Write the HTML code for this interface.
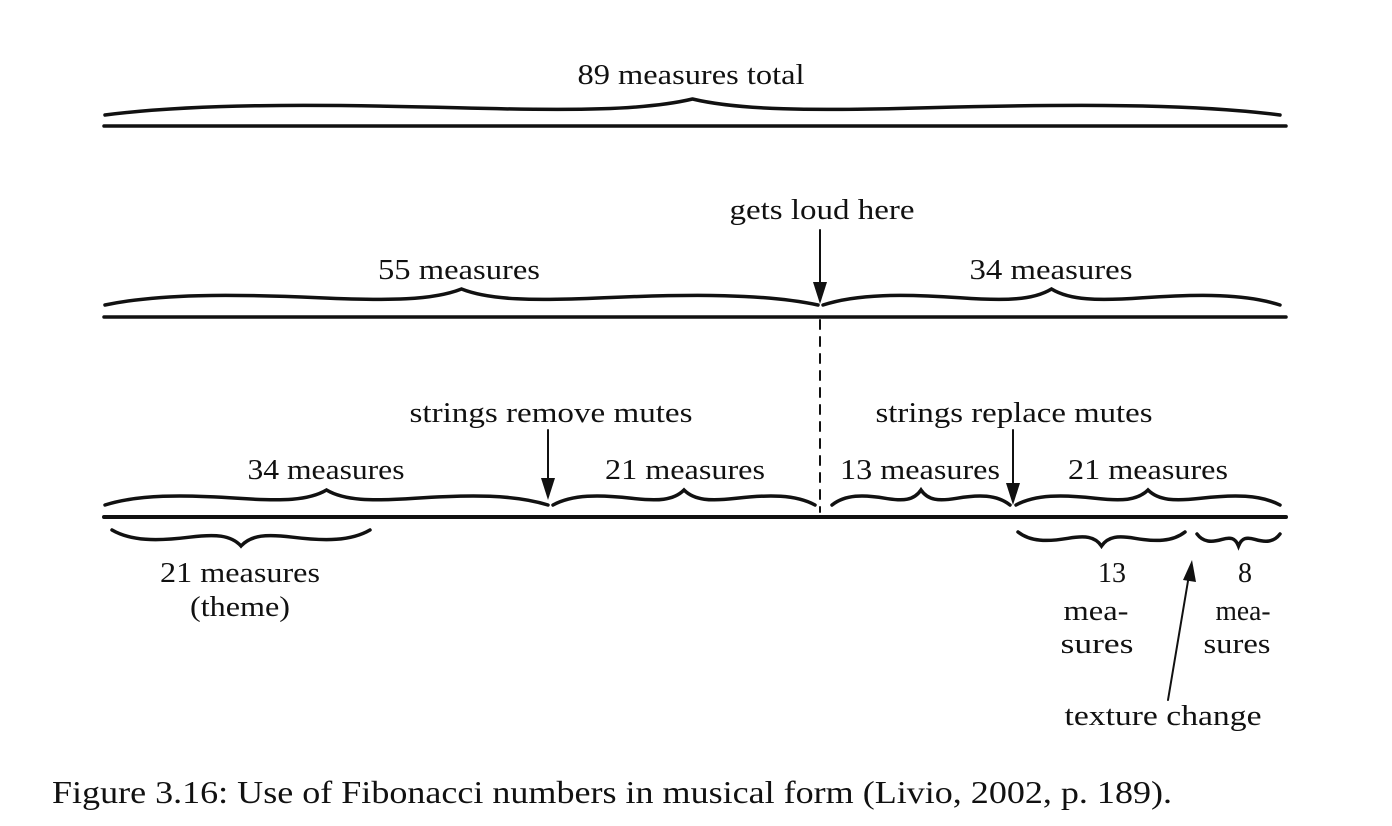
<!DOCTYPE html>
<html><head><style>
body{margin:0;background:#fff;}
svg{display:block}
text{font-family:"Liberation Serif",serif;fill:#111;}
</style></head><body>
<svg id="s" width="1392" height="826" viewBox="0 0 1392 826" xmlns="http://www.w3.org/2000/svg">
<rect width="1392" height="826" fill="#fff"/>
<g fill="none" stroke="#111" stroke-width="3.5" stroke-linecap="round">
<line x1="104" y1="126" x2="1286" y2="126"/>
<line x1="104" y1="317" x2="1286" y2="317"/>
<line x1="104" y1="517" x2="1286" y2="517" stroke-width="4"/>
<line x1="820" y1="320" x2="820" y2="512" stroke-width="2" stroke-dasharray="9,8"/>
<line x1="820" y1="230" x2="820" y2="292" stroke-width="2"/>
<line x1="548" y1="430" x2="548" y2="488" stroke-width="2"/>
<line x1="1013" y1="430" x2="1013" y2="493" stroke-width="2"/>
<line x1="1168" y1="700" x2="1189" y2="575" stroke-width="2"/>
<g id="br"></g>
</g>
<g fill="#111">
<polygon points="813,282 827,282 820,304"/>
<polygon points="541,478 555,478 548,500"/>
<polygon points="1006,483 1020,483 1013,505"/>
<polygon points="1183,580 1196,582 1192,560"/>
</g>
<g font-size="28" text-anchor="middle" lengthAdjust="spacingAndGlyphs">
<text x="691" y="84" textLength="227" lengthAdjust="spacingAndGlyphs">89 measures total</text>
<text x="822" y="219" textLength="185" lengthAdjust="spacingAndGlyphs">gets loud here</text>
<text x="459" y="279" textLength="162" lengthAdjust="spacingAndGlyphs">55 measures</text>
<text x="1051" y="279" textLength="163" lengthAdjust="spacingAndGlyphs">34 measures</text>
<text x="551" y="422" textLength="283" lengthAdjust="spacingAndGlyphs">strings remove mutes</text>
<text x="1014" y="422" textLength="277" lengthAdjust="spacingAndGlyphs">strings replace mutes</text>
<text x="326" y="479" textLength="157" lengthAdjust="spacingAndGlyphs">34 measures</text>
<text x="685" y="479" textLength="160" lengthAdjust="spacingAndGlyphs">21 measures</text>
<text x="920" y="479" textLength="160" lengthAdjust="spacingAndGlyphs">13 measures</text>
<text x="1148" y="479" textLength="160" lengthAdjust="spacingAndGlyphs">21 measures</text>
<text x="240" y="582" textLength="160" lengthAdjust="spacingAndGlyphs">21 measures</text>
<text x="240" y="616" textLength="100" lengthAdjust="spacingAndGlyphs">(theme)</text>
<text x="1112" y="582">13</text>
<text x="1096" y="620" textLength="65" lengthAdjust="spacingAndGlyphs">mea-</text>
<text x="1097" y="653" textLength="73" lengthAdjust="spacingAndGlyphs">sures</text>
<text x="1245" y="582">8</text>
<text x="1243" y="620" textLength="55" lengthAdjust="spacingAndGlyphs">mea-</text>
<text x="1237" y="653" textLength="67" lengthAdjust="spacingAndGlyphs">sures</text>
<text x="1163" y="725" textLength="197" lengthAdjust="spacingAndGlyphs">texture change</text>
</g>
<text x="52" y="803" font-size="32" textLength="1120" lengthAdjust="spacingAndGlyphs">Figure 3.16: Use of Fibonacci numbers in musical form (Livio, 2002, p. 189).</text>
</svg>
<script>
(function(){
function brace(x1,x2,y0,h,d){
 // d=-1 up, +1 down
 var w=(x2-x1)/2,m=x1+w,s=d;
 function Y(f){return (y0+s*f*h).toFixed(1);}
 var p="M"+x1+","+y0+
 " C"+(x1+0.15*w)+","+Y(0.7)+" "+(x1+0.35*w)+","+Y(0.7)+" "+(x1+0.6*w)+","+Y(0.45)+
 " C"+(x1+0.8*w)+","+Y(0.25)+" "+(m-0.08*w)+","+Y(0.3)+" "+m+","+Y(1)+
 " C"+(m+0.08*w)+","+Y(0.3)+" "+(x2-0.8*w)+","+Y(0.25)+" "+(x2-0.6*w)+","+Y(0.45)+
 " C"+(x2-0.35*w)+","+Y(0.7)+" "+(x2-0.15*w)+","+Y(0.7)+" "+x2+","+y0;
 return '<path d="'+p+'"/>';
}
var b=[
 [105,1280,115,16,-1],
 [105,818,305,16,-1],[823,1280,305,16,-1],
 [105,548,505,15,-1],[553,815,505,15,-1],[832,1010,505,15,-1],[1016,1280,505,15,-1],
 [112,370,530,16,1],[1018,1185,532,14,1],[1197,1280,534,12,1]
];
var h="";b.forEach(function(a){h+=brace(a[0],a[1],a[2],a[3],a[4]);});
document.getElementById("br").innerHTML=h;
})();
</script>
</body></html>
